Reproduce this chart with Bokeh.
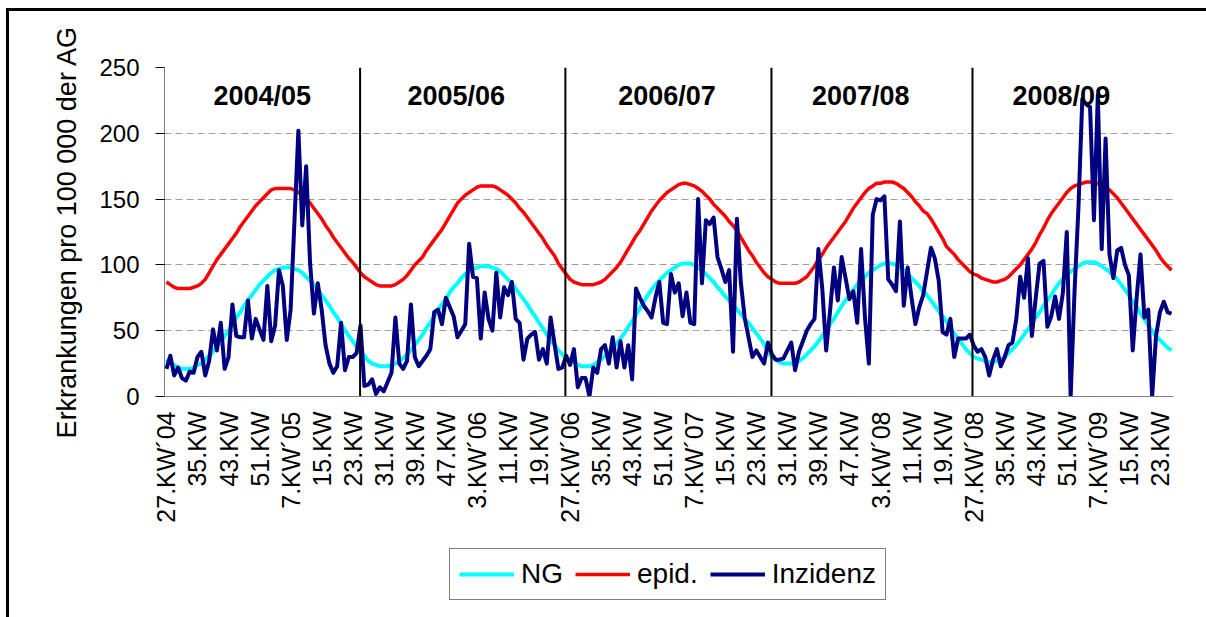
import math
from bokeh.plotting import figure
from bokeh.layouts import column
from bokeh.models import Range1d, FixedTicker, Legend, LegendItem, InlineStyleSheet
from bokeh.core.properties import value
from bokeh.embed import file_html
from bokeh.resources import INLINE

# ---------------- data ----------------
seasons = ["2004/05", "2005/06", "2006/07", "2007/08", "2008/09"]

tick_labels = ["27.KW´04", "35.KW", "43.KW", "51.KW", "7.KW´05", "15.KW", "23.KW",
               "31.KW", "39.KW", "47.KW", "3.KW´06", "11.KW", "19.KW",
               "27.KW´06", "35.KW", "43.KW", "51.KW", "7.KW´07", "15.KW", "23.KW",
               "31.KW", "39.KW", "47.KW", "3.KW´08", "11.KW", "19.KW",
               "27.KW´08", "35.KW", "43.KW", "51.KW", "7.KW´09", "15.KW", "23.KW"]

ng_0405 = [28, 25, 24, 22, 21, 21, 21, 22, 24, 25, 28, 31, 34, 38, 42, 46, 50, 55, 60, 64,
           69, 73, 77, 81, 85, 88, 91, 94, 96, 97, 98, 98, 98, 97, 96, 94, 91, 88, 85, 81,
           77, 73, 69, 64, 60, 55, 50, 46, 42, 38, 34, 31]
ng_0506 = [27, 25, 24, 23, 23, 23, 24, 25, 27, 29, 32, 35, 39, 43, 47, 52, 56, 61, 66, 70,
           74, 79, 83, 86, 90, 93, 95, 97, 98, 99, 99, 99, 98, 97, 95, 92, 89, 86, 82, 78,
           74, 70, 65, 61, 56, 52, 47, 43, 39, 35, 32, 29]
ng_0607 = [28, 26, 24, 23, 23, 23, 24, 26, 28, 31, 34, 37, 40, 44, 48, 53, 57, 62, 67, 72,
           77, 81, 85, 88, 91, 94, 96, 98, 100, 101, 101, 101, 100, 98, 96, 93, 90, 87, 83, 80,
           76, 73, 70, 66, 63, 59, 56, 52, 48, 44, 40, 34]
ng_0708 = [30, 28, 26, 25, 25, 25, 26, 27, 29, 32, 35, 38, 42, 46, 50, 55, 59, 64, 69, 73,
           77, 81, 85, 88, 91, 94, 96, 98, 100, 101, 101, 101, 100, 98, 96, 93, 90, 87, 84, 80,
           77, 73, 69, 65, 61, 57, 52, 48, 44, 40, 36, 33]
ng_0809 = [30, 29, 28, 27, 26, 26, 27, 28, 30, 33, 36, 39, 43, 47, 51, 55, 60, 64, 69, 73,
           77, 82, 86, 89, 92, 95, 97, 99, 101, 102, 102, 102, 101, 99, 97, 95, 92, 89, 85, 81,
           77, 72, 68, 63, 59, 54, 50, 46, 43, 40, 37, 35]

epid_0405 = [87, 85, 83, 82, 82, 82, 82, 83, 84, 86, 89, 94, 99, 104, 108, 112, 116, 120, 124, 129,
             133, 137, 141, 145, 148, 151, 154, 157, 158, 158, 158, 158, 158, 157, 155, 153, 151, 147, 143, 139,
             135, 130, 126, 121, 117, 113, 109, 105, 102, 98, 94, 91]
epid_0506 = [89, 87, 85, 84, 84, 84, 84, 85, 87, 89, 92, 96, 100, 103, 106, 111, 115, 119, 123, 127,
             132, 137, 142, 147, 150, 153, 155, 157, 159, 160, 160, 160, 160, 159, 157, 155, 153, 150, 147, 143,
             140, 136, 132, 128, 124, 120, 115, 111, 107, 101, 97, 93]
epid_0607 = [89, 87, 86, 85, 85, 85, 85, 86, 87, 89, 92, 95, 98, 102, 107, 112, 117, 122, 126, 131,
             136, 141, 145, 149, 152, 155, 157, 159, 161, 162, 162, 161, 160, 158, 156, 153, 150, 146, 143, 140,
             137, 133, 130, 126, 121, 116, 111, 107, 102, 98, 94, 91]
epid_0708 = [89, 87, 86, 86, 86, 86, 86, 87, 89, 91, 95, 99, 104, 108, 113, 117, 121, 125, 129, 133,
             138, 143, 147, 151, 155, 158, 160, 162, 162, 163, 163, 163, 162, 160, 158, 155, 152, 148, 145, 141,
             139, 135, 130, 125, 120, 114, 111, 108, 104, 101, 98, 95]
epid_0809 = [93, 92, 90, 89, 88, 87, 87, 88, 89, 91, 94, 97, 100, 104, 108, 112, 117, 123, 128, 134,
             139, 143, 147, 151, 155, 158, 160, 161, 162, 163, 163, 163, 162, 161, 159, 157, 154, 151, 147, 143,
             139, 135, 131, 127, 123, 119, 115, 111, 106, 102, 99, 96]

inz_0405 = [21, 31, 16, 22, 14, 12, 19, 18, 30, 34, 16, 27, 51, 35, 56, 21, 30, 70, 46, 45,
            45, 73, 44, 59, 51, 43, 84, 42, 54, 96, 84, 43, 66, 134, 202, 130, 175, 102, 63, 86,
            66, 39, 25, 18, 23, 56, 20, 30, 30, 33, 54, 8]
inz_0506 = [9, 13, 2, 7, 4, 11, 18, 60, 25, 21, 27, 70, 30, 23, 27, 31, 36, 64, 66, 55,
            75, 68, 61, 45, 50, 55, 116, 91, 90, 44, 79, 59, 50, 94, 60, 83, 77, 87, 59, 56,
            28, 44, 47, 49, 28, 36, 25, 60, 40, 21, 22, 31]
inz_0607 = [24, 36, 7, 14, 14, 0, 22, 18, 36, 39, 25, 45, 22, 42, 22, 39, 13, 82, 75, 69,
            65, 60, 75, 87, 56, 55, 93, 79, 86, 61, 79, 56, 55, 150, 86, 134, 131, 136, 106, 97,
            87, 96, 34, 135, 87, 60, 45, 30, 35, 30, 25, 41]
inz_0708 = [32, 28, 28, 29, 35, 41, 20, 34, 42, 50, 55, 59, 112, 82, 35, 65, 98, 73, 106, 90,
            74, 80, 56, 112, 60, 25, 138, 150, 149, 152, 89, 85, 80, 133, 69, 98, 75, 55, 68, 77,
            95, 113, 105, 88, 49, 47, 59, 30, 44, 44, 44, 47]
inz_0809 = [39, 34, 36, 30, 16, 28, 36, 23, 30, 39, 41, 59, 91, 75, 105, 46, 75, 101, 103, 53,
            61, 76, 59, 79, 125, 0, 80, 143, 226, 222, 220, 134, 229, 112, 196, 108, 90, 111, 113, 100,
            92, 35, 75, 108, 60, 66, 0, 46, 64, 72, 64, 63]

ng = ng_0405 + ng_0506 + ng_0607 + ng_0708 + ng_0809
epid = epid_0405 + epid_0506 + epid_0607 + epid_0708 + epid_0809
inzidenz = inz_0405 + inz_0506 + inz_0607 + inz_0708 + inz_0809
weeks = list(range(len(inzidenz)))

series_names = ["NG", "epid.", "Inzidenz"]
series_values = [ng, epid, inzidenz]
series_colors = ["#00FFFF", "#FF0000", "#000080"]
series_widths = [4, 3.5, 4]

# ---------------- layout constants ----------------
season_label_x = [24.7, 74.7, 129.0, 178.9, 230.6]
season_label_y = 228
divider_x = [49.9, 102.8, 155.9, 207.7]
FONT = "Liberation Sans"

# ---------------- main chart ----------------
p = figure(width=1206, height=530, output_backend="svg", toolbar_location=None,
           x_range=Range1d(-0.5, len(weeks) - 0.5), y_range=Range1d(0, 250),
           min_border_left=164, min_border_right=33, min_border_top=67, min_border_bottom=134)
p.outline_line_color = None
p.background_fill_color = "white"
p.border_fill_color = "white"

for vals, col, w in zip(series_values, series_colors, series_widths):
    p.line(weeks, vals, line_color=col, line_width=w, line_join="round")

p.segment(x0=divider_x, y0=[0] * len(divider_x), x1=divider_x, y1=[250] * len(divider_x),
          line_color="black", line_width=2)

p.text(x=season_label_x, y=[season_label_y] * len(seasons), text=seasons,
       text_font=value(FONT), text_font_style="bold", text_font_size="27px",
       text_align="center", text_baseline="alphabetic", text_color="black")

p.yaxis.ticker = FixedTicker(ticks=[0, 50, 100, 150, 200, 250])
p.yaxis.axis_label = "Erkrankungen pro 100 000 der AG"
p.yaxis.axis_label_text_font = FONT
p.yaxis.axis_label_text_font_style = "normal"
p.yaxis.axis_label_text_font_size = "27px"
p.yaxis.axis_label_text_color = "black"
p.yaxis.axis_label_standoff = 14
p.yaxis.major_label_text_font = FONT
p.yaxis.major_label_text_font_size = "24px"
p.yaxis.major_label_text_color = "black"
p.yaxis.major_label_standoff = 16
p.yaxis.major_tick_out = 9
p.yaxis.major_tick_in = 0
p.yaxis.minor_tick_line_color = None
p.yaxis.axis_line_color = "#808080"
p.yaxis.major_tick_line_color = "black"

p.xaxis.ticker = FixedTicker(ticks=[i * 8 for i in range(len(tick_labels))])
p.xaxis.major_label_overrides = {i * 8: lab for i, lab in enumerate(tick_labels)}
p.xaxis.major_label_orientation = math.pi / 2
p.xaxis.major_label_text_font = FONT
p.xaxis.major_label_text_font_size = "25px"
p.xaxis.major_label_text_color = "black"
p.xaxis.major_label_standoff = 9
p.xaxis.major_tick_line_color = None
p.xaxis.minor_tick_line_color = None
p.xaxis.axis_line_color = "#808080"

p.xgrid.visible = False
p.ygrid.ticker = FixedTicker(ticks=[50, 100, 150, 200, 250])
p.ygrid.grid_line_color = "#a0a0a0"
p.ygrid.grid_line_dash = "7 4"
p.ygrid.grid_line_width = 1

# ---------------- legend strip (same series, view range kept empty) ----------------
pl = figure(width=1206, height=87, output_backend="svg", toolbar_location=None,
            x_range=Range1d(-3, -2), y_range=Range1d(0, 1),
            x_axis_location=None, y_axis_location=None,
            min_border_left=0, min_border_right=0, min_border_top=0, min_border_bottom=0)
pl.outline_line_color = None
pl.xgrid.visible = False
pl.ygrid.visible = False
pl.background_fill_color = "white"
pl.border_fill_color = "white"
legend_renderers = [pl.line(weeks, vals, line_color=col, line_width=w)
                    for vals, col, w in zip(series_values, series_colors, series_widths)]
legend = Legend(items=[LegendItem(label=n, renderers=[r]) for n, r in zip(series_names, legend_renderers)],
                orientation="horizontal", location=(285, 17),
                border_line_color="black", border_line_width=1,
                label_text_font=FONT, label_text_font_size="28px", label_text_color="black",
                glyph_width=55, glyph_height=20, label_standoff=7, spacing=12,
                padding=9, margin=0, background_fill_alpha=1)
pl.add_layout(legend)

page = column(p, pl, spacing=0)
# outer chart-area frame: only its top and left edges fall inside the picture
page.stylesheets = [InlineStyleSheet(css="""
:host { overflow: hidden; }
:host::before {
  content: "";
  position: absolute;
  left: 6px; top: 8px; width: 1200px; height: 2.5px;
  background: black;
  z-index: 100;
  pointer-events: none;
}
:host::after {
  content: "";
  position: absolute;
  left: 6px; top: 8px; width: 2.5px; height: 609px;
  background: black;
  z-index: 100;
  pointer-events: none;
}
""")]

open("out.html", "w").write(file_html(page, INLINE))
